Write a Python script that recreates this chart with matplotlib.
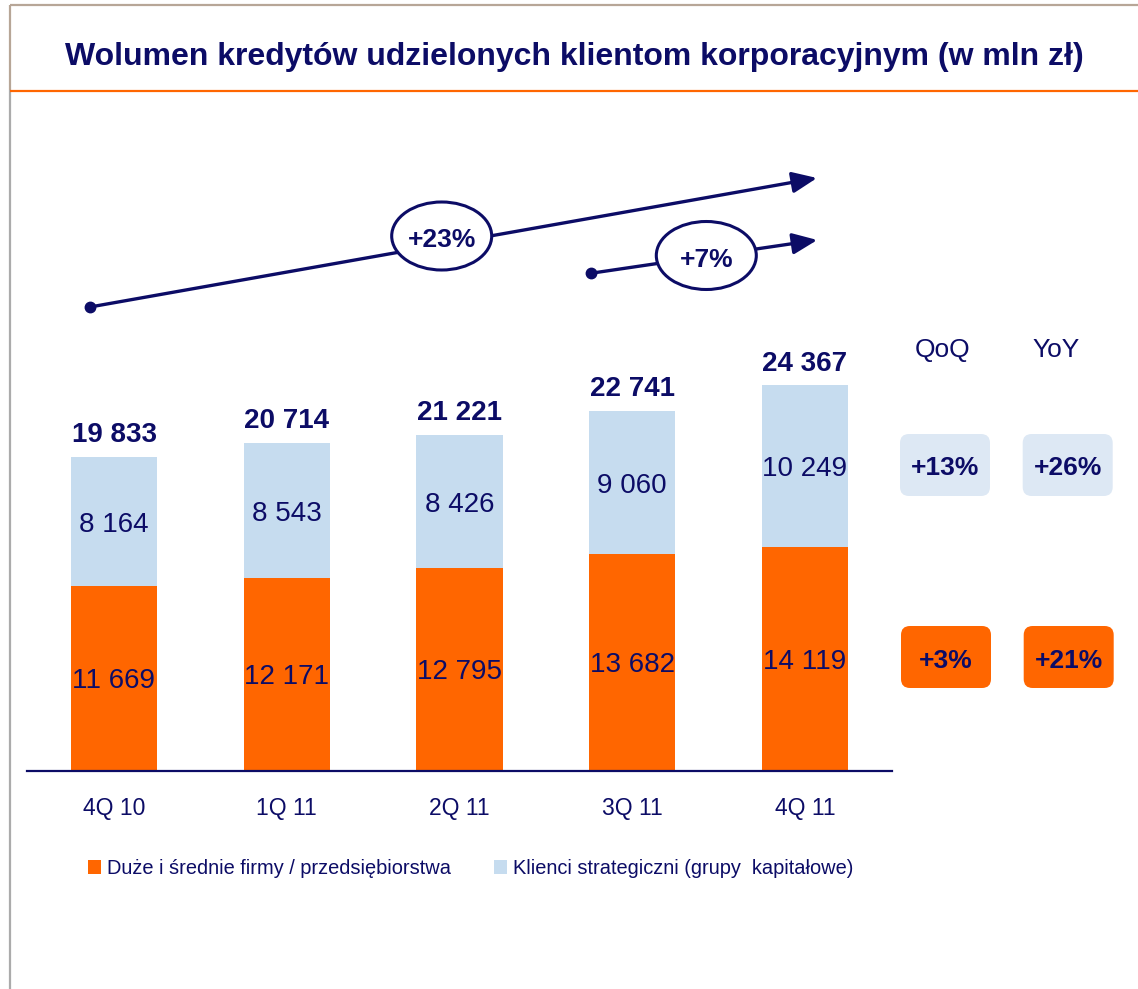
import matplotlib
matplotlib.use('Agg')
import matplotlib.pyplot as plt
from matplotlib.patches import Ellipse, FancyBboxPatch
import numpy as np

plt.rcParams['font.family'] = ['Liberation Sans', 'DejaVu Sans']

# ---------------- data ----------------
title = 'Wolumen kredytów udzielonych klientom korporacyjnym (w mln zł)'
categories = ['4Q 10', '1Q 11', '2Q 11', '3Q 11', '4Q 11']
duze = [11669, 12171, 12795, 13682, 14119]          # Duże i średnie firmy
klienci = [8164, 8543, 8426, 9060, 10249]           # Klienci strategiczni
totals = [19833, 20714, 21221, 22741, 24367]
series_names = ['Duże i średnie firmy / przedsiębiorstwa',
                'Klienci strategiczni (grupy  kapitałowe)']
growth_labels = ['+23%', '+7%']
change_headers = ['QoQ', 'YoY']
klienci_changes = ['+13%', '+26%']
duze_changes = ['+3%', '+21%']

NAVY = '#0C0C66'
ORANGE = '#FF6600'
LIGHT = '#C6DCEF'
BOXBLUE = '#DDE8F4'


def fmt(v):
    return f'{v:,}'.replace(',', ' ')


W, H = 1138, 989
fig = plt.figure(figsize=(W / 100, H / 100), dpi=100)

# overlay axes in pixel coordinates (decorations)
ov = fig.add_axes([0, 0, 1, 1], zorder=0)
ov.set_xlim(0, W)
ov.set_ylim(H, 0)
ov.axis('off')
ov.patch.set_alpha(0)

# frame
ov.plot([10, W], [5, 5], color='#B7A697', lw=1.6, solid_capstyle='butt')
ov.plot([10.5, 10.5], [5, 90], color='#B7A697', lw=1.6, solid_capstyle='butt')
ov.plot([10.5, 10.5], [90, H], color='#ABABAB', lw=1.6, solid_capstyle='butt')
ov.plot([10, W], [90.5, 90.5], color=ORANGE, lw=1.6, solid_capstyle='butt')
ov.text(574.5, 65, title, ha='center', va='baseline', fontsize=23,
        fontweight='bold', color=NAVY)

# ---------------- main bar axes ----------------
x0, x1 = 27, 891.7
base, top = 770.5, 100
c0, step = 114, 172.75
px_per_unit = 0.0158
ax = fig.add_axes([x0 / W, (H - base) / H, (x1 - x0) / W, (base - top) / H], zorder=1)
ax.patch.set_alpha(0)
ax.set_xlim((x0 - c0) / step, (x1 - c0) / step)
ax.set_ylim(0, (base - top) / px_per_unit)

x = np.arange(len(categories))
b1 = ax.bar(x, duze, 0.5, color=ORANGE, linewidth=0)
b2 = ax.bar(x, klienci, 0.5, bottom=duze, color=LIGHT, linewidth=0)

for i in range(len(categories)):
    ax.annotate(fmt(duze[i]), xy=(i, duze[i] / 2), xytext=(0, -7.2),
                textcoords='offset points', ha='center', va='baseline',
                fontsize=20, color=NAVY)
    ax.annotate(fmt(klienci[i]), xy=(i, duze[i] + klienci[i] / 2), xytext=(0, -7.2),
                textcoords='offset points', ha='center', va='baseline',
                fontsize=20, color=NAVY)
    ax.annotate(fmt(totals[i]), xy=(i, totals[i]), xytext=(0, 10.8),
                textcoords='offset points', ha='center', va='baseline',
                fontsize=20, fontweight='bold', color=NAVY)

for s in ['top', 'left', 'right']:
    ax.spines[s].set_visible(False)
ax.spines['bottom'].set_color(NAVY)
ax.spines['bottom'].set_linewidth(1.6)
ax.set_yticks([])
ax.set_xticks(x, categories)
ax.tick_params(axis='x', length=0, pad=19, labelsize=16.5, labelcolor=NAVY)

# ---------------- growth arrows ----------------
arrows = [((90, 307), (817, 178), (441.7, 236), 247),
          ((590.7, 273.3), (817.3, 240), (706.3, 255.5), 266.7)]
for (start, end, ec, tb), lab in zip(arrows, growth_labels):
    ov.annotate('', xy=end, xytext=start,
                arrowprops=dict(arrowstyle='-|>,head_length=0.75,head_width=0.32',
                                color=NAVY, lw=2.4, shrinkA=0, shrinkB=0,
                                mutation_scale=20))
    ov.plot(*start, 'o', ms=7.5, color=NAVY)
    ov.add_patch(Ellipse(ec, 100, 68, facecolor='white', edgecolor=NAVY, lw=2.2, zorder=5))
    ov.text(ec[0], tb, lab, ha='center', va='baseline', fontsize=19,
            fontweight='bold', color=NAVY, zorder=6)

# ---------------- QoQ / YoY boxes ----------------
hdr_x = [943, 1056]
box_x = [(900, 90), (1022.7, 90)]
for hx, h in zip(hdr_x, change_headers):
    ov.text(hx, 357, h, ha='center', va='baseline', fontsize=19, color=NAVY)
for (bx, bw), lab in zip(box_x, klienci_changes):
    ov.add_patch(FancyBboxPatch((bx, 434), bw, 62,
                                boxstyle='round,pad=0,rounding_size=9',
                                fc=BOXBLUE, ec='none'))
    ov.text(bx + bw / 2, 475, lab, ha='center', va='baseline', fontsize=19,
            fontweight='bold', color=NAVY)
for (bx, bw), lab in zip(box_x, duze_changes):
    ov.add_patch(FancyBboxPatch((bx + 1, 626), bw, 62,
                                boxstyle='round,pad=0,rounding_size=9',
                                fc=ORANGE, ec='none'))
    ov.text(bx + 1 + bw / 2, 667.5, lab, ha='center', va='baseline', fontsize=19,
            fontweight='bold', color=NAVY)

# ---------------- legend ----------------
fig.legend(handles=[b1, b2], labels=series_names, loc='center left',
           bbox_to_anchor=(88 / W, (H - 868.5) / H), ncol=2, frameon=False,
           fontsize=14.4, handlelength=0.66, handleheight=0.66, handletextpad=0.3,
           columnspacing=2.15, borderpad=0, borderaxespad=0, labelcolor=NAVY)

fig.savefig('out.png', dpi=100)
